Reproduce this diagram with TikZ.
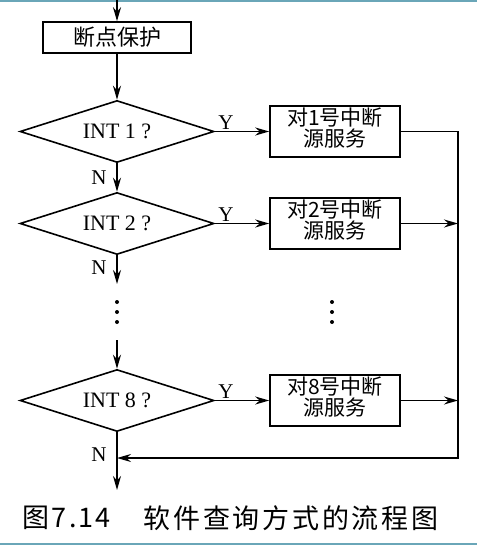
\documentclass[tikz,border=0pt]{standalone}
\usepackage{fontspec}
\setmainfont{Liberation Serif}
\usetikzlibrary{shapes.geometric,arrows.meta,calc}
\newfontfamily\cjk{Noto Sans CJK SC}
\definecolor{frameteal}{RGB}{106,166,184}
\begin{document}
\begin{tikzpicture}[x=1pt,y=-1pt, line width=1.6pt,
 arr/.style={-{Stealth[length=14pt,width=8pt]}},
 proc/.style={draw, rectangle, minimum width=130pt, minimum height=51pt, inner sep=0pt},
 dec/.style={draw, diamond, shape aspect=3.13, minimum width=194pt, minimum height=62pt, inner sep=0pt, font=\fontsize{22}{24}\selectfont},
 lbl/.style={font=\fontsize{21}{23}\selectfont, inner sep=0pt},
 btxt/.style={font=\cjk\fontsize{21}{17.5}\selectfont, align=center, inner sep=0pt},
 dot/.style={circle, fill, inner sep=0pt, minimum size=4pt},
 frame/.style={draw=frameteal, line width=2pt}]
\useasboundingbox (0,0) rectangle (477,545);
\draw[frame] (0,1) -- (477,1);
\draw[frame] (0,544) -- (477,544);

\node[proc, minimum width=148pt, minimum height=31pt, font=\cjk\fontsize{22}{24}\selectfont] (save) at (117,37.5) {断点保护};
\node[dec] (d1) at (117,131.5) {INT 1 ?};
\node[dec] (d2) at (117,223.5) {INT 2 ?};
\node[dec] (d8) at (117,400.5) {INT 8 ?};
\node[proc] (s1) at (335,131.5) {};
\node[proc] (s2) at (335,223.5) {};
\node[proc] (s8) at (335,400.5) {};
\node[btxt] (t1) at ($(s1.center)+(0,-3.5)$) {对1号中断\\源服务};
\node[btxt] (t2) at ($(s2.center)+(0,-3.5)$) {对2号中断\\源服务};
\node[btxt] (t8) at ($(s8.center)+(0,-3.5)$) {对8号中断\\源服务};

\coordinate (top) at (117,0);
\coordinate (n2end) at (117,284);
\coordinate (n8start) at (117,340);
\coordinate (bot) at (117,490);
\coordinate (j) at (117,458);
\coordinate (rx) at (458,458);

\draw[arr] (top) -- (save.north);
\draw[arr] (save.south) -- (d1.north);
\draw[arr] (d1.south) -- (d2.north);
\draw[arr] (d2.south) -- (n2end);
\draw[arr] (n8start) -- (d8.north);
\draw[arr] (d8.south) -- (bot);

\draw[arr] (d1.east) -- (s1.west);
\draw[arr] (d2.east) -- (s2.west);
\draw[arr] (d8.east) -- (s8.west);

\draw[arr] (s1.east) -| (rx) -- (j);
\draw[arr] (s2.east) -- (s2.east -| rx);
\draw[arr] (s8.east) -- (s8.east -| rx);

\node[lbl] (y1) at (226,123) {Y};
\node[lbl] (y2) at (226,215) {Y};
\node[lbl] (y8) at (226,392) {Y};
\node[lbl] (na) at (99,178) {N};
\node[lbl] (nb) at (99,268) {N};
\node[lbl] (nc) at (99,455) {N};

\foreach \yy [count=\i] in {302,312,322}{
  \node[dot] (la\i) at (117,\yy) {};
  \node[dot] (ra\i) at (332,\yy) {};
}

\node[anchor=west, inner sep=0pt, font=\cjk\fontsize{27}{30}\selectfont\addfontfeature{LetterSpace=8}] (cap1) at (22,518) {图7.14};
\node[anchor=west, inner sep=0pt, font=\cjk\fontsize{27}{30}\selectfont\addfontfeature{LetterSpace=10}] (cap2) at (143,518) {软件查询方式的流程图};
\end{tikzpicture}
\end{document}
